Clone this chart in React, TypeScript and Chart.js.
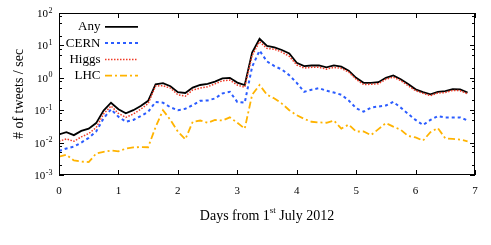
import { useEffect, useRef } from 'react';
import { Chart, registerables } from 'chart.js';

Chart.register(...registerables);

// ---- data ----
const days = [
  0, 0.125, 0.25, 0.375, 0.5, 0.625, 0.75, 0.875,
  1, 1.125, 1.25, 1.375, 1.5, 1.625, 1.75, 1.875,
  2, 2.125, 2.25, 2.375, 2.5, 2.625, 2.75, 2.875,
  3, 3.125, 3.25, 3.375, 3.5, 3.625, 3.75, 3.875,
  4, 4.125, 4.25, 4.375, 4.5, 4.625, 4.75, 4.875,
  5, 5.125, 5.25, 5.375, 5.5, 5.625, 5.75, 5.875,
  6, 6.125, 6.25, 6.375, 6.5, 6.625, 6.75, 6.875,
];

const anyRate = [
  0.018, 0.021, 0.017, 0.023, 0.027, 0.04, 0.097, 0.17, 0.107, 0.08,
  0.1, 0.135, 0.195, 0.63, 0.68, 0.55, 0.36, 0.34, 0.5, 0.6,
  0.65, 0.76, 0.96, 1.0, 0.71, 0.6, 6.0, 16, 9.6, 8.7,
  7.2, 5.6, 2.9, 2.3, 2.4, 2.4, 2.1, 2.4, 2.2, 1.66,
  1.0, 0.7, 0.7, 0.73, 1.0, 1.18, 0.9, 0.64, 0.44, 0.36,
  0.31, 0.37, 0.39, 0.45, 0.44, 0.35,
];

const cernRate = [
  0.0055, 0.0066, 0.0075, 0.01, 0.014, 0.022, 0.056, 0.107, 0.063, 0.044,
  0.05, 0.066, 0.089, 0.18, 0.17, 0.123, 0.1, 0.11, 0.144, 0.195,
  0.2, 0.23, 0.33, 0.37, 0.18, 0.17, 2.2, 6.9, 3.2, 2.3,
  1.8, 1.2, 0.7, 0.37, 0.43, 0.48, 0.4, 0.35, 0.3, 0.2,
  0.115, 0.09, 0.12, 0.13, 0.14, 0.18, 0.12, 0.077, 0.05, 0.035,
  0.05, 0.066, 0.06, 0.06, 0.06, 0.048,
];

const higgsRate = [
  0.011, 0.013, 0.011, 0.015, 0.019, 0.029, 0.076, 0.135, 0.08, 0.06,
  0.076, 0.107, 0.16, 0.56, 0.57, 0.48, 0.3, 0.27, 0.42, 0.48,
  0.53, 0.65, 0.81, 0.85, 0.6, 0.51, 4.9, 13, 8.1, 7.6,
  6.2, 4.6, 2.5, 2.0, 2.1, 2.1, 1.85, 2.1, 1.95, 1.5,
  0.9, 0.62, 0.63, 0.66, 0.9, 1.05, 0.82, 0.57, 0.4, 0.33,
  0.28, 0.34, 0.35, 0.41, 0.4, 0.32,
];

const lhcRate = [
  0.0037, 0.0042, 0.0028, 0.0026, 0.0025, 0.0046, 0.0052, 0.0057, 0.0054, 0.0065,
  0.0071, 0.0073, 0.0072, 0.03, 0.1, 0.05, 0.022, 0.0126, 0.044, 0.048,
  0.041, 0.05, 0.048, 0.06, 0.041, 0.027, 0.3, 0.6, 0.3, 0.23,
  0.16, 0.1, 0.07, 0.054, 0.044, 0.042, 0.041, 0.048, 0.027, 0.036,
  0.022, 0.022, 0.017, 0.026, 0.04, 0.031, 0.025, 0.016, 0.0145, 0.0115,
  0.021, 0.028, 0.0135, 0.013, 0.0124, 0.011,
];

const seriesLabels = ['Any', 'CERN', 'Higgs', 'LHC'];
const xTickValues = [0, 1, 2, 3, 4, 5, 6, 7];
const yDecadeExponents = [-3, -2, -1, 0, 1, 2];
const yMinorFactors = [2, 5, 8];
const xTitleParts = ['Days from 1', 'st', ' July 2012'];
const yTitle = '# of tweets / sec';

const FONT = '"Liberation Serif", "Times New Roman", serif';

const gnuplotPlugin = {
  id: 'gnuplotDecor',
  afterDatasetsDraw(chart: any) {
    const { ctx, chartArea: a, scales } = chart;
    const xs = scales.x;
    const ys = scales.y;
    ctx.save();
    ctx.strokeStyle = '#000';
    ctx.lineWidth = 1;
    ctx.setLineDash([]);
    // frame
    ctx.strokeRect(a.left + 0.5, a.top + 0.5, a.right - a.left - 1, a.bottom - a.top - 1);

    // x ticks (inward, bottom + top)
    ctx.beginPath();
    xTickValues.forEach((v) => {
      const px = Math.round(xs.getPixelForValue(v)) + 0.5;
      ctx.moveTo(px, a.bottom);
      ctx.lineTo(px, a.bottom - 5);
      ctx.moveTo(px, a.top);
      ctx.lineTo(px, a.top + 5);
    });
    // y ticks (inward, left + right)
    yDecadeExponents.forEach((e, i) => {
      const py = Math.round(ys.getPixelForValue(Math.pow(10, e))) + 0.5;
      ctx.moveTo(a.left, py);
      ctx.lineTo(a.left + 5, py);
      ctx.moveTo(a.right, py);
      ctx.lineTo(a.right - 5, py);
      if (i < yDecadeExponents.length - 1) {
        yMinorFactors.forEach((f) => {
          const pm = Math.round(ys.getPixelForValue(f * Math.pow(10, e))) + 0.5;
          ctx.moveTo(a.left, pm);
          ctx.lineTo(a.left + 3, pm);
          ctx.moveTo(a.right, pm);
          ctx.lineTo(a.right - 3, pm);
        });
      }
    });
    ctx.stroke();

    ctx.fillStyle = '#000';
    // y tick labels 10^e
    yDecadeExponents.forEach((e) => {
      const py = ys.getPixelForValue(Math.pow(10, e));
      const expText = String(e).replace('-', '-');
      ctx.font = `8px ${FONT}`;
      const ew = ctx.measureText(expText).width;
      const right = 52.5;
      ctx.textAlign = 'left';
      ctx.textBaseline = 'alphabetic';
      ctx.fillText(expText, right - ew, py - 0.5);
      ctx.font = `11px ${FONT}`;
      ctx.textAlign = 'right';
      ctx.fillText('10', right - ew - 0.5, py + 4);
    });

    // x tick labels
    ctx.font = `11px ${FONT}`;
    ctx.textAlign = 'center';
    ctx.textBaseline = 'middle';
    xTickValues.forEach((v) => {
      ctx.fillText(String(v), xs.getPixelForValue(v), 191);
    });

    // x title with superscript
    const big = `14px ${FONT}`;
    const small = `9px ${FONT}`;
    ctx.font = big;
    const w0 = ctx.measureText(xTitleParts[0]).width;
    const w2 = ctx.measureText(xTitleParts[2]).width;
    ctx.font = small;
    const w1 = ctx.measureText(xTitleParts[1]).width;
    const total = w0 + w1 + w2;
    const cx = (a.left + a.right) / 2;
    let sx = cx - total / 2;
    ctx.textAlign = 'left';
    ctx.textBaseline = 'alphabetic';
    ctx.font = big;
    ctx.fillText(xTitleParts[0], sx, 219.5);
    sx += w0;
    ctx.font = small;
    ctx.fillText(xTitleParts[1], sx, 213);
    sx += w1;
    ctx.font = big;
    ctx.fillText(xTitleParts[2], sx, 219.5);

    // y title
    ctx.save();
    ctx.translate(19, (a.top + a.bottom) / 2);
    ctx.rotate(-Math.PI / 2);
    ctx.font = big;
    ctx.textAlign = 'center';
    ctx.textBaseline = 'middle';
    ctx.fillText(yTitle, 0, 0);
    ctx.restore();

    // legend (text then line sample)
    chart.data.datasets.forEach((ds: any, i: number) => {
      const ly = 26.8 + i * 16.3;
      ctx.font = `13px ${FONT}`;
      ctx.textAlign = 'right';
      ctx.textBaseline = 'middle';
      ctx.fillStyle = '#000';
      ctx.fillText(ds.label, 100.5, ly);
      ctx.beginPath();
      ctx.strokeStyle = ds.borderColor;
      ctx.lineWidth = ds.borderWidth;
      ctx.setLineDash(ds.borderDash || []);
      ctx.moveTo(105, ly);
      ctx.lineTo(138, ly);
      ctx.stroke();
    });
    ctx.restore();
  },
};

export default function App() {
  const canvasRef = useRef<HTMLCanvasElement | null>(null);

  useEffect(() => {
    const canvas = canvasRef.current;
    if (!canvas) return;
    const mk = (vals: number[]) => days.map((d, i) => ({ x: d, y: vals[i] }));
    const chart = new Chart(canvas, {
      type: 'line',
      data: {
        datasets: [
          {
            label: seriesLabels[0],
            data: mk(anyRate),
            borderColor: '#000000',
            borderWidth: 1.8,
            borderDash: [],
            order: 4,
          },
          {
            label: seriesLabels[1],
            data: mk(cernRate),
            borderColor: '#2b5cff',
            borderWidth: 2,
            borderDash: [3, 3],
            order: 3,
          },
          {
            label: seriesLabels[2],
            data: mk(higgsRate),
            borderColor: '#f03a26',
            borderWidth: 1.5,
            borderDash: [1.5, 1.5],
            order: 2,
          },
          {
            label: seriesLabels[3],
            data: mk(lhcRate),
            borderColor: '#ffb300',
            borderWidth: 1.8,
            borderDash: [7, 3, 2, 3],
            order: 1,
          },
        ] as any,
      },
      options: {
        animation: false,
        responsive: false,
        devicePixelRatio: 1,
        parsing: true,
        elements: {
          point: { radius: 0, hoverRadius: 0 },
          line: { tension: 0, fill: false },
        },
        layout: { padding: { left: 0, right: 16, top: 13, bottom: 0 } },
        plugins: {
          legend: { display: false },
          tooltip: { enabled: false },
        },
        scales: {
          x: {
            type: 'linear',
            min: 0,
            max: 7,
            grid: { display: false },
            border: { display: false },
            ticks: { display: false },
            afterFit: (s: any) => {
              s.height = 70;
            },
          },
          y: {
            type: 'logarithmic',
            min: 0.001,
            max: 100,
            grid: { display: false },
            border: { display: false },
            ticks: { display: false },
            afterFit: (s: any) => {
              s.width = 59;
            },
          },
        },
      } as any,
      plugins: [gnuplotPlugin],
    });
    return () => chart.destroy();
  }, []);

  return (
    <div style={{ position: 'fixed', left: 0, top: 0, width: 491, height: 245, background: '#fff' }}>
      <canvas ref={canvasRef} width={491} height={245} style={{ display: 'block', width: 491, height: 245 }} />
    </div>
  );
}
